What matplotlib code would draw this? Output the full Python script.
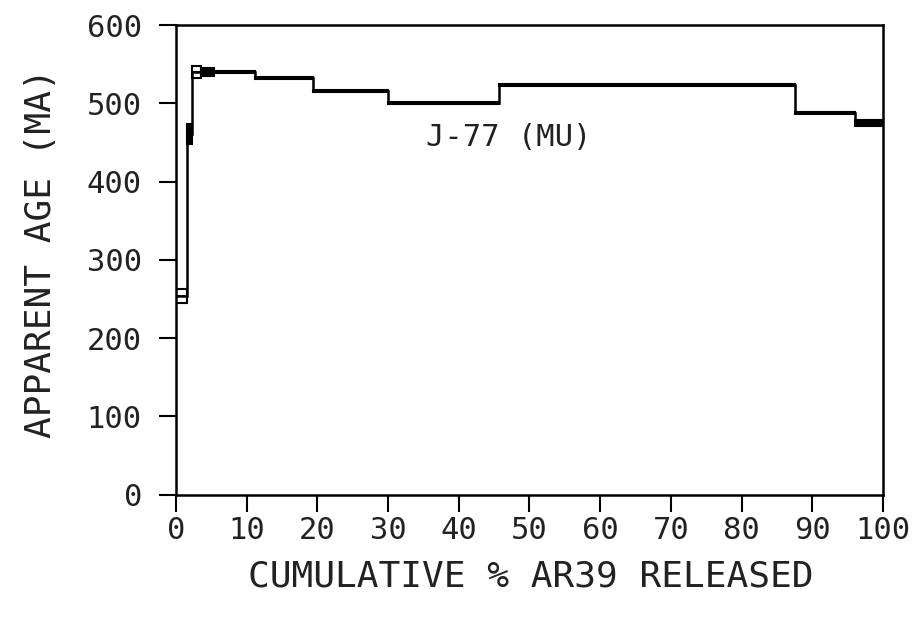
import numpy as np
import matplotlib.pyplot as plt

# step edges (cumulative % Ar39) and apparent ages (Ma) with 1-sigma errors
edges = [0, 1.5, 2.2, 3.5, 5.4, 11.2, 19.4, 30.0, 45.7, 87.6, 96.1, 100]
ages = [254, 461, 540, 540, 540, 532, 516, 500, 523, 488, 475]
errs = [9, 13, 8, 5, 1.5, 1.5, 1.5, 1.5, 1.5, 1.5, 4]

xticks = [0, 10, 20, 30, 40, 50, 60, 70, 80, 90, 100]
yticks = [0, 100, 200, 300, 400, 500, 600]

plt.rcParams['font.family'] = ['DejaVu Sans Mono']
txtcol = '#222222'

fig = plt.figure(figsize=(9.19, 6.19), dpi=100)
ax = fig.add_axes([0.1915, 0.201, 0.7693, 0.7585])

edges = np.array(edges)
ages = np.array(ages)
errs = np.array(errs)
widths = np.diff(edges)

# stepped spectrum line
ax.stairs(ages, edges, baseline=None, color='black', lw=1.8)

# error boxes (filled black where the box is too small to show open)
fills = ['none', 'black', 'none', 'black', 'black', 'black', 'black',
         'black', 'black', 'black', 'black']
ax.bar(edges[:-1], 2 * errs, width=widths, bottom=ages - errs, align='edge',
       facecolor=fills, edgecolor='black', linewidth=1.5)
ax.hlines(ages, edges[:-1], edges[1:], color='black', lw=1.2)

ax.text(35.4, 456, 'J-77 (MU)', fontsize=22, color=txtcol,
        ha='left', va='center')

ax.set_xlim(0, 100)
ax.set_ylim(0, 600)
ax.set_xticks(xticks)
ax.set_yticks(yticks)
ax.tick_params(axis='both', direction='out', length=12.5, width=1.5,
               labelsize=22, labelcolor=txtcol)
ax.tick_params(axis='x', pad=3)
ax.tick_params(axis='y', pad=12)
for s in ax.spines.values():
    s.set_linewidth(1.8)

fig.text(0.577, 0.068, 'CUMULATIVE % AR39 RELEASED', fontsize=26,
         color=txtcol, ha='center', va='center')
fig.text(0.045, 0.591, 'APPARENT AGE (MA)', fontsize=26, color=txtcol,
         ha='center', va='center', rotation=90)

fig.savefig('out.png', dpi=100)
